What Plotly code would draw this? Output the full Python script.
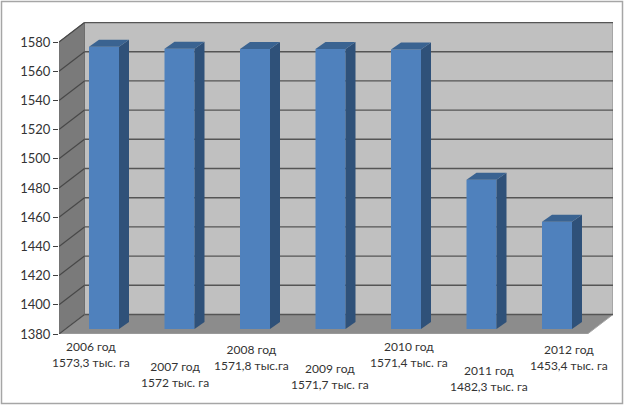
import plotly.graph_objects as go

years = ["2006 год", "2007 год", "2008 год", "2009 год", "2010 год", "2011 год", "2012 год"]
value_labels = ["1573,3 тыс. га", "1572 тыс. га", "1571,8 тыс.га", "1571,7 тыс. га",
                "1571,4 тыс. га", "1482,3 тыс. га", "1453,4 тыс. га"]
values = [1573.3, 1572.0, 1571.8, 1571.7, 1571.4, 1482.3, 1453.4]
y_ticks = [1380, 1400, 1420, 1440, 1460, 1480, 1500, 1520, 1540, 1560, 1580]

W, H = 625, 405
L, R, T, B = 59, 613, 22, 334          # plot box in pixels
CAT = 75.5                              # px per category
UNIT = 1.46                             # px per value unit
X0 = 104                                # px of first bar centre
BAR_W = 30 / CAT
BAR_LIFT = 5                            # bar front plane above axis plane, px
BAR_DX, BAR_DY = 10 / CAT, 7 / UNIT     # bar depth in data units
WALL_DX, WALL_DY = 25.5 / CAT, 19.5 / UNIT  # chart depth in data units

x_range = [(L - X0) / CAT, (R - X0) / CAT]
y_range = [1380, 1380 + (B - T) / UNIT]
y2_range = [1380, 1380 + (B - BAR_LIFT - T) / UNIT]
xs = list(range(len(values)))

FRONT, SIDE, TOP = "#4F81BD", "#2F5179", "#3A6391"
fig = go.Figure()
fig.add_trace(go.Bar(x=xs, y=values, width=BAR_W, yaxis="y2", marker=dict(color=FRONT, line=dict(width=0)),
                     showlegend=False, hoverinfo="skip"))
for x, v in zip(xs, values):
    xr, xl = x + BAR_W / 2, x - BAR_W / 2
    fig.add_trace(go.Scatter(x=[xr, xr + BAR_DX, xr + BAR_DX, xr, xr], y=[1380, 1380 + BAR_DY, v + BAR_DY, v, 1380],
                             yaxis="y2", mode="lines", fill="toself", fillcolor=SIDE, line=dict(width=0),
                             showlegend=False, hoverinfo="skip"))
    fig.add_trace(go.Scatter(x=[xl, xr, xr + BAR_DX, xl + BAR_DX, xl], y=[v, v, v + BAR_DY, v + BAR_DY, v],
                             yaxis="y2", mode="lines", fill="toself", fillcolor=TOP, line=dict(width=0),
                             showlegend=False, hoverinfo="skip"))

xa, xb = x_range
def poly(pts, fill, line=None):
    d = "M " + " L ".join(f"{px},{py}" for px, py in pts) + " Z"
    return dict(type="path", path=d, xref="x", yref="y", fillcolor=fill, layer="below",
                line=dict(width=1 if line else 0, color=line or "rgba(0,0,0,0)"))

base, top = y_range[0], y_ticks[-1]
shapes = [
    poly([(xa + WALL_DX, base + WALL_DY), (xb, base + WALL_DY), (xb, top + WALL_DY), (xa + WALL_DX, top + WALL_DY)], "#C0C0C0", "#8C8C8C"),
    poly([(xa, base), (xa + WALL_DX, base + WALL_DY), (xa + WALL_DX, top + WALL_DY), (xa, top)], "#7A7A7A", "#6E6E6E"),
    poly([(xa, base), (xa + WALL_DX, base + WALL_DY), (xb, base + WALL_DY), (xb - WALL_DX, base)], "#8C8C8C", "#A6A6A6"),
]
for t in y_ticks:
    shapes.append(dict(type="line", xref="x", yref="y", layer="below", x0=xa, x1=xa + WALL_DX, y0=t, y1=t + WALL_DY,
                       line=dict(color="#484848", width=1.2)))
    shapes.append(dict(type="line", xref="x", yref="y", layer="below", x0=xa + WALL_DX, x1=xb, y0=t + WALL_DY, y1=t + WALL_DY,
                       line=dict(color="#555555", width=1.4)))
shapes.append(dict(type="rect", xref="paper", yref="paper", layer="below",
                   x0=(1.5 - L) / (R - L), x1=(622.5 - L) / (R - L),
                   y0=(B - 403.5) / (B - T), y1=(B - 1.5) / (B - T),
                   line=dict(color="#A6A6A6", width=1.5), fillcolor="rgba(0,0,0,0)"))

label_dx = [-13, -4.5, -4, -0.5, 3, 7.5, 12]
label_dy = [3, 23, 6, 25, 3, 27, 6]
annotations = [dict(x=x, y=1380, xref="x", yref="y", xshift=dx, yshift=-dy, yanchor="top", xanchor="center",
                    showarrow=False, text=f"{a}<br>{b}", font=dict(size=12, color="#333333"), align="center")
               for x, a, b, dx, dy in zip(xs, years, value_labels, label_dx, label_dy)]

fig.update_layout(
    width=W, height=H, margin=dict(l=L, r=W - R, t=T, b=H - B, pad=0, autoexpand=False),
    paper_bgcolor="white", plot_bgcolor="rgba(0,0,0,0)", showlegend=False, barmode="overlay",
    font=dict(family="Lato, Carlito, sans-serif", color="#333333"),
    xaxis=dict(range=x_range, visible=False, fixedrange=True),
    yaxis=dict(range=y_range, tickvals=y_ticks, ticks="outside", ticklen=5, tickcolor="#404040", tickwidth=1.2,
               showgrid=False, zeroline=False, showline=False, tickfont=dict(size=13, color="#333333"), fixedrange=True),
    yaxis2=dict(range=y2_range, domain=[BAR_LIFT / (B - T), 1], anchor="x", visible=False, fixedrange=True),
    shapes=shapes, annotations=annotations,
)
fig.write_html("out.html", config={"displayModeBar": False},
               post_script="document.body.style.margin='0';")
